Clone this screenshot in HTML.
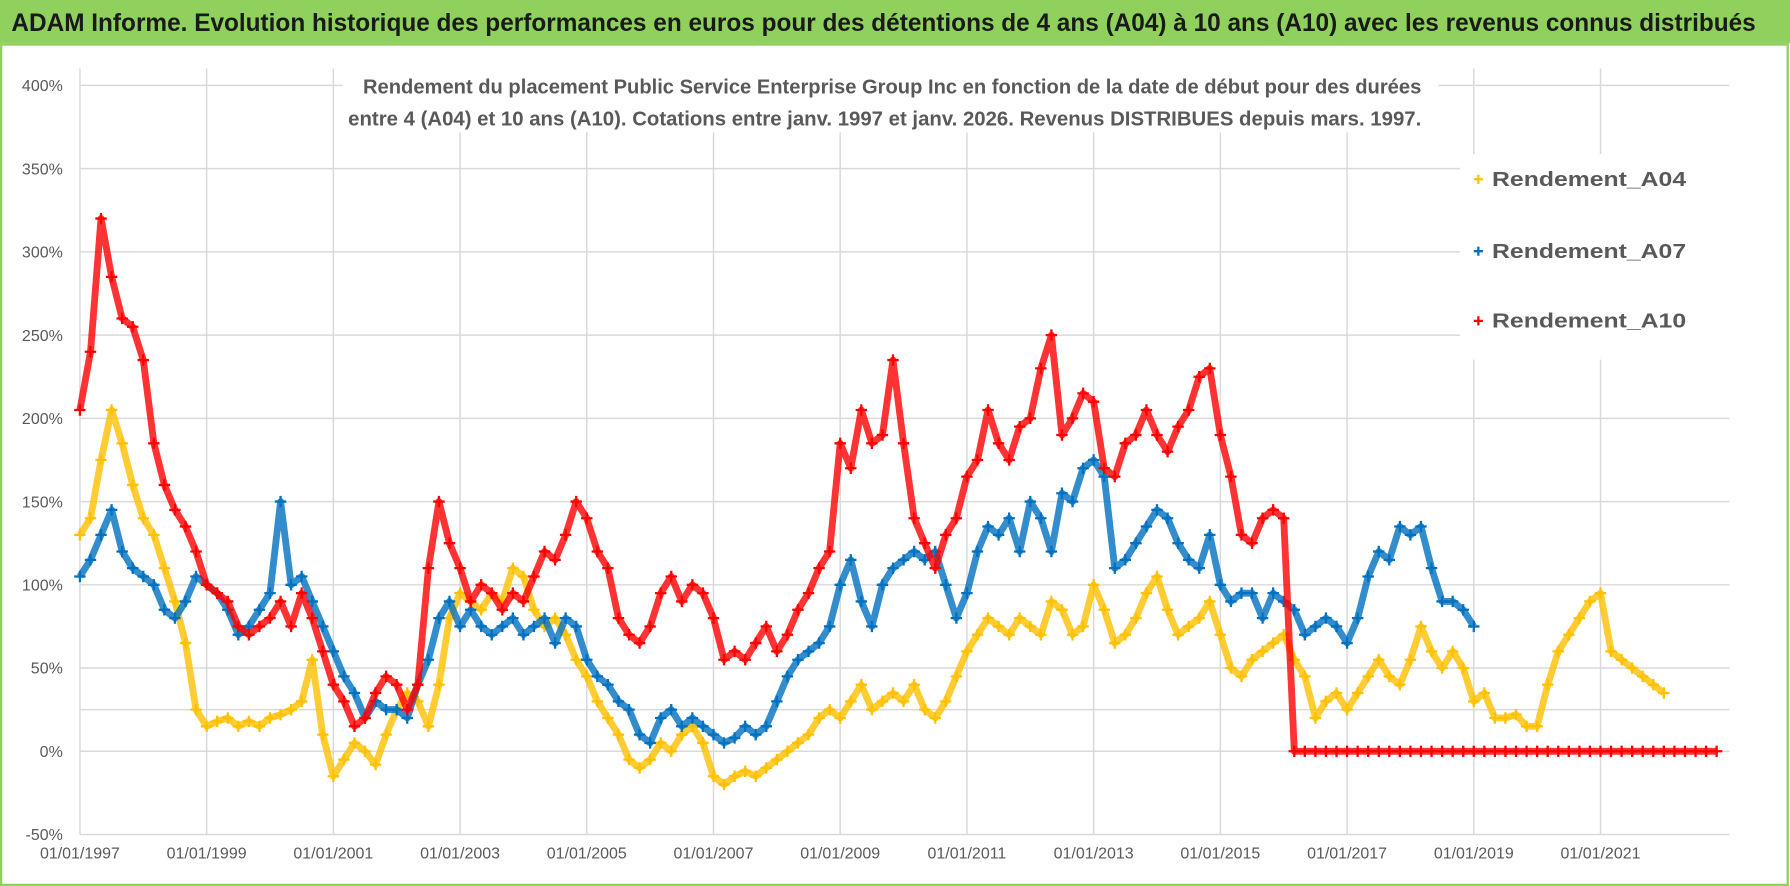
<!DOCTYPE html>
<html><head><meta charset="utf-8"><style>
html,body{margin:0;padding:0;background:#fff;}
svg{display:block;}
text{font-family:"Liberation Sans Narrow","Liberation Sans",sans-serif;}
</style></head><body>
<svg id="chart" width="1790" height="886" viewBox="0 0 1568 776" preserveAspectRatio="none" xmlns="http://www.w3.org/2000/svg">
<rect x="0" y="0" width="1568" height="776" fill="#fff"/>
<rect x="0" y="0" width="1568" height="38" fill="#8fd15c"/>
<text x="10" y="27" font-size="22" font-weight="bold" fill="#1a1a1a" textLength="1528" lengthAdjust="spacingAndGlyphs">ADAM Informe. Evolution historique des performances en euros pour des détentions de 4 ans (A04) à 10 ans (A10) avec les revenus connus distribués</text>
<rect x="1" y="39" width="1565" height="736" fill="none" stroke="#8fd15c" stroke-width="2"/>
<g id="grid"></g>
<g id="series"></g>
<rect x="300" y="56" width="960" height="60" fill="#fff"/>
<text x="318" y="82" font-size="18" font-weight="bold" fill="#595959" textLength="927" lengthAdjust="spacingAndGlyphs">Rendement du placement Public Service  Enterprise Group Inc en fonction de la date de début pour des durées</text>
<text x="305" y="110" font-size="18" font-weight="bold" fill="#595959" textLength="940" lengthAdjust="spacingAndGlyphs">entre 4 (A04) et 10 ans (A10).  Cotations entre janv. 1997 et janv. 2026.  Revenus DISTRIBUES depuis mars. 1997.</text>
<g id="legend">
<rect x="1279" y="135" width="262" height="180" fill="#fff"/>
</g>
</svg>
<script>
const yTicks = [-50, 0, 50, 100, 150, 200, 250, 300, 350, 400];
const yTickLabels = ["-50%","0%","50%","100%","150%","200%","250%","300%","350%","400%"];
const xTickYears = [1997,1999,2001,2003,2005,2007,2009,2011,2013,2015,2017,2019,2021];
const xTickLabels = ["01/01/1997","01/01/1999","01/01/2001","01/01/2003","01/01/2005","01/01/2007","01/01/2009","01/01/2011","01/01/2013","01/01/2015","01/01/2017","01/01/2019","01/01/2021"];
const seriesNames = ["Rendement_A04","Rendement_A07","Rendement_A10"];
const startYear = 1997;
const stepYears = 1/6;
const a04Values = [130,140,175,205,185,160,140,130,110,90,65,25,15,18,20,15,18,15,20,22,25,30,55,10,-15,-5,5,0,-8,10,25,35,30,15,40,80,95,90,85,95,90,110,105,85,75,80,70,55,45,30,20,10,-5,-10,-5,5,0,10,15,5,-15,-20,-15,-12,-15,-10,-5,0,5,10,20,25,20,30,40,25,30,35,30,40,25,20,30,45,60,70,80,75,70,80,75,70,90,85,70,75,100,85,65,70,80,95,105,85,70,75,80,90,70,50,45,55,60,65,70,55,45,20,30,35,25,35,45,55,45,40,55,75,60,50,60,50,30,35,20,20,22,15,15,40,60,70,80,90,95,60,55,50,45,40,35];
const a07Values = [105,115,130,145,120,110,105,100,85,80,90,105,100,95,85,70,75,85,95,150,100,105,90,75,60,45,35,20,30,25,25,20,40,55,80,90,75,85,75,70,75,80,70,75,80,65,80,75,55,45,40,30,25,10,5,20,25,15,20,15,10,5,8,15,10,15,30,45,55,60,65,75,100,115,90,75,100,110,115,120,115,120,100,80,95,120,135,130,140,120,150,140,120,155,150,170,175,165,110,115,125,135,145,140,125,115,110,130,100,90,95,95,80,95,90,85,70,75,80,75,65,80,105,120,115,135,130,135,110,90,90,85,75];
const a10Values = [205,240,320,285,260,255,235,185,160,145,135,120,100,95,90,75,70,75,80,90,75,95,80,60,40,30,15,20,35,45,40,25,40,110,150,125,110,90,100,95,85,95,90,105,120,115,130,150,140,120,110,80,70,65,75,95,105,90,100,95,80,55,60,55,65,75,60,70,85,95,110,120,185,170,205,185,190,235,185,140,125,110,130,140,165,175,205,185,175,195,200,230,250,190,200,215,210,170,165,185,190,205,190,180,195,205,225,230,190,165,130,125,140,145,140,0,0,0,0,0,0,0,0,0,0,0,0,0,0,0,0,0,0,0,0,0,0,0,0,0,0,0,0,0,0,0,0,0,0,0,0,0,0,0,0,0];
const seriesColors = ["#FFC000","#0070C0","#FF0000"];

const NS = "http://www.w3.org/2000/svg";
const X0 = 70, PXY = 55.5, Y0 = 658, PXP = 1.458, XR = 1515;
function xScale(yr){ return X0 + (yr - 1997) * PXY; }
function yScale(p){ return Y0 - p * PXP; }
function mk(tag, attrs, parent){ const e = document.createElementNS(NS, tag); for (const k in attrs) e.setAttribute(k, attrs[k]); parent.appendChild(e); return e; }

const grid = document.getElementById('grid');
yTicks.forEach((t, i) => {
  const ln = mk('line', {x1: X0, x2: XR, y1: yScale(t), y2: yScale(t), stroke: '#d9d9d9', 'stroke-width': 1.3}, grid);
  
  
  const tx = mk('text', {x: 55, y: yScale(t) + 5, 'text-anchor': 'end', 'font-size': 14, fill: '#595959'}, grid);
  tx.textContent = yTickLabels[i];
  
  
});
const extra = mk('line', {x1: X0, x2: XR, y1: yScale(25), y2: yScale(25), stroke: '#d9d9d9', 'stroke-width': 1.3}, grid);


xTickYears.forEach((yr, i) => {
  const ln = mk('line', {x1: xScale(yr), x2: xScale(yr), y1: 60, y2: yScale(-50), stroke: '#d9d9d9', 'stroke-width': 1.3}, grid);
  
  
  const tx = mk('text', {x: xScale(yr), y: 752, 'text-anchor': 'middle', 'font-size': 14, fill: '#595959'}, grid);
  tx.textContent = xTickLabels[i];
  
  
});

const series = document.getElementById('series');
[a04Values, a07Values, a10Values].forEach((vals, si) => {
  const g = mk('g', {}, series);
  
  
  const col = seriesColors[si];
  let d = '';
  vals.forEach((v, i) => {
    const x = xScale(startYear + i * stepYears), y = yScale(v);
    d += (i ? 'L' : 'M') + x.toFixed(1) + ' ' + y.toFixed(1);
  });
  const band = mk('path', {d: d, fill: 'none', stroke: col, 'stroke-width': 6, 'stroke-linejoin': 'round', opacity: 0.8}, g);
  
  
  vals.forEach((v, i) => {
    const x = xScale(startYear + i * stepYears), y = yScale(v);
    const p = mk('path', {d: `M${x-5} ${y}H${x+5}M${x} ${y-5}V${y+5}`, stroke: col, 'stroke-width': 2}, g);
    
    
  });
});

const legend = document.getElementById('legend');
const legendY = [163, 226, 287];
seriesNames.forEach((n, i) => {
  const c = mk('path', {d: `M${1291} ${legendY[i]-6}H${1299}M${1295} ${legendY[i]-10}V${legendY[i]-2}`, stroke: seriesColors[i], 'stroke-width': 2}, legend);
  
  
  const t = mk('text', {x: 1307, y: legendY[i], 'font-size': 18, 'font-weight': 'bold', fill: '#595959', textLength: 170, lengthAdjust: 'spacingAndGlyphs'}, legend);
  t.textContent = n;
  
  
});
</script>
</body></html>
